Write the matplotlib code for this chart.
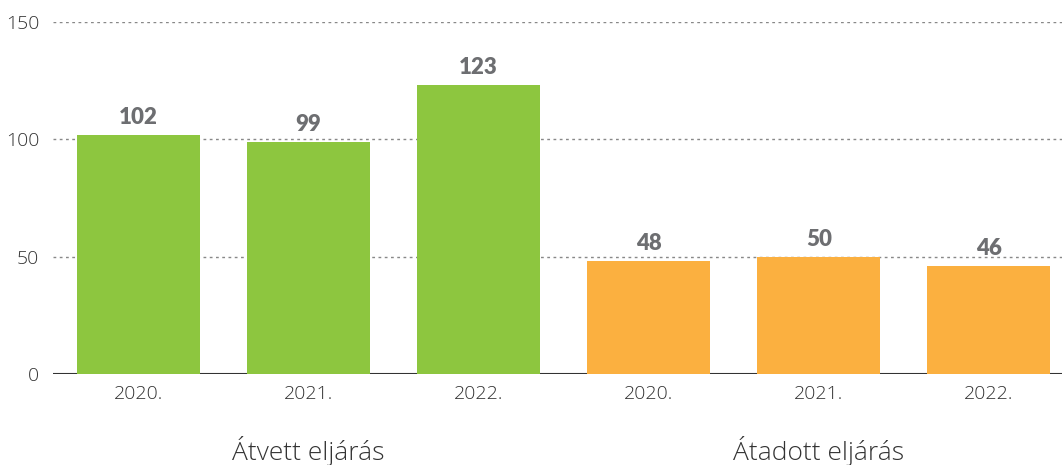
import matplotlib.pyplot as plt

# Data
years = ['2020.', '2021.', '2022.']
groups = ['Átvett eljárás', 'Átadott eljárás']
atvett = [102, 99, 123]
atadott = [48, 50, 46]
colors = ['#8DC63F', '#FBB040']

plt.rcParams['font.family'] = ['Open Sans', 'DejaVu Sans']

fig = plt.figure(figsize=(10.62, 4.65), dpi=100)
ax = fig.add_axes([0.0499, 0.1957, 0.9501, 0.757])

values = atvett + atadott
labels = years + years
bar_colors = [colors[0]] * len(atvett) + [colors[1]] * len(atadott)
x = list(range(len(values)))

bars = ax.bar(x, values, width=0.724, color=bar_colors, zorder=3)

for xi, v in zip(x, values):
    ax.text(xi, v + 3, str(v), ha='center', va='bottom', fontsize=16,
            fontweight='heavy', color='#6d6e71', family=['Lato', 'DejaVu Sans'],
            zorder=4)

ax.set_xlim(-0.503, 5.43)
ax.set_ylim(0, 150)
ax.set_yticks([0, 50, 100, 150])
ax.set_xticks(x)
ax.set_xticklabels(labels)
ax.tick_params(axis='both', length=0, labelsize=14, colors='#333333')
ax.tick_params(axis='x', pad=8)
ax.tick_params(axis='y', pad=10)
for lbl in ax.get_xticklabels() + ax.get_yticklabels():
    lbl.set_fontweight('light')

for y in [50, 100, 150]:
    ax.axhline(y, color='#888888', linestyle=(0, (2, 2.5)), linewidth=1, zorder=1)
ax.axhline(0, color='#333333', linewidth=1.5, zorder=2)

for s in ax.spines.values():
    s.set_visible(False)

# group captions under the year labels
ax.text(1, -0.22, groups[0], transform=ax.get_xaxis_transform(), ha='center',
        va='center', fontsize=19, fontweight='light', color='#333333')
ax.text(4, -0.22, groups[1], transform=ax.get_xaxis_transform(), ha='center',
        va='center', fontsize=19, fontweight='light', color='#333333')

plt.savefig('out.png', dpi=100)
